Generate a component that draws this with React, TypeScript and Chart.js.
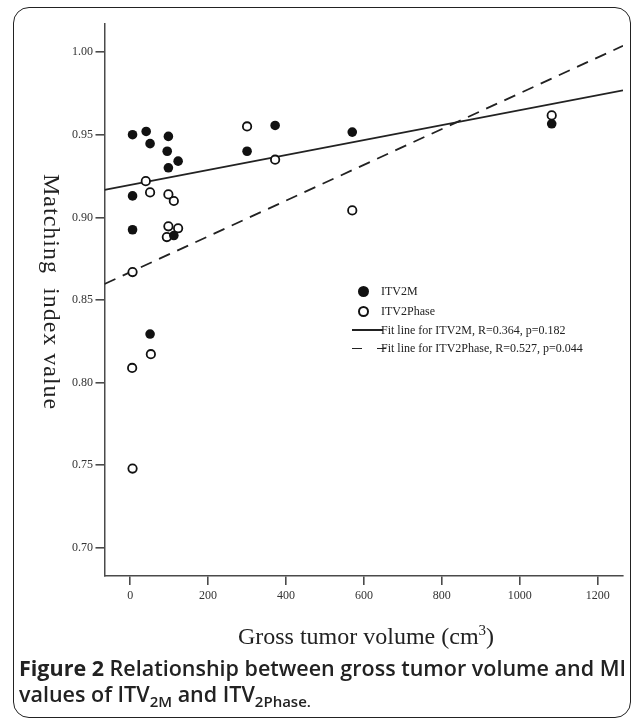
import React, { useEffect, useRef } from "react";
import { Chart, registerables } from "chart.js";
Chart.register(...registerables);

// ITV2M (filled) : gross tumor volume (cm3) and matching index
const gtvM = [6, 41, 51, 98, 95, 123, 98, 6, 6, 112, 51, 300, 372, 570, 1082];
const miM = [0.95, 0.952, 0.9446, 0.949, 0.94, 0.934, 0.93, 0.913, 0.8925, 0.889, 0.8294, 0.94, 0.9556, 0.9516, 0.9566];
// ITV2Phase (open)
const gtvPhase = [40, 51, 98, 112, 98, 123, 94, 6, 53, 5, 6, 300, 372, 570, 1082];
const miPhase = [0.9219, 0.9151, 0.9139, 0.9099, 0.8946, 0.8934, 0.8881, 0.8669, 0.8172, 0.8089, 0.748, 0.955, 0.9349, 0.9042, 0.9617];
// fit lines (end points)
const fitX = [-66, 1265];
const fitM = [0.9167, 0.9768];
const fitPhase = [0.8597, 1.0038];
// axes
const xTicks = [0, 200, 400, 600, 800, 1000, 1200];
const yTicks = [0.7, 0.75, 0.8, 0.85, 0.9, 0.95, 1.0];
const xRange = [-66, 1265];
const yRange = [0.683, 1.017];

const serif = '"Liberation Serif", "Times New Roman", serif';
const sans = '"Open Sans", "Noto Sans", sans-serif';

export default function App() {
  const ref = useRef<HTMLCanvasElement | null>(null);
  useEffect(() => {
    if (!ref.current) return;
    const axisColor = "#4a4a4a";
    const chart = new Chart(ref.current, {
      type: "scatter",
      data: {
        datasets: [
          {
            label: "ITV2M",
            data: gtvM.map((x, i) => ({ x, y: miM[i] })),
            pointRadius: 4.8,
            backgroundColor: "#111",
            borderColor: "#111",
            borderWidth: 0,
            order: 0,
          },
          {
            label: "ITV2Phase",
            data: gtvPhase.map((x, i) => ({ x, y: miPhase[i] })),
            pointRadius: 4.2,
            backgroundColor: "#fff",
            borderColor: "#111",
            borderWidth: 1.8,
            order: 0,
          },
          {
            type: "line",
            label: "Fit line for ITV2M",
            data: fitX.map((x, i) => ({ x, y: fitM[i] })),
            borderColor: "#222",
            borderWidth: 1.8,
            pointRadius: 0,
            fill: false,
            order: 1,
          } as any,
          {
            type: "line",
            label: "Fit line for ITV2Phase",
            data: fitX.map((x, i) => ({ x, y: fitPhase[i] })),
            borderColor: "#222",
            borderWidth: 1.8,
            borderDash: [12, 8],
            pointRadius: 0,
            fill: false,
            order: 1,
          } as any,
        ],
      },
      options: {
        responsive: false,
        animation: false,
        layout: { padding: { top: 24, right: 9, left: 0, bottom: 0 } },
        plugins: { legend: { display: false }, tooltip: { enabled: false } },
        scales: {
          x: {
            type: "linear",
            min: xRange[0],
            max: xRange[1],
            afterBuildTicks: (s: any) => {
              s.ticks = xTicks.map((v) => ({ value: v }));
            },
            afterFit: (s: any) => {
              s.height = 145;
            },
            grid: { drawOnChartArea: false, drawTicks: true, tickLength: 9, color: axisColor, lineWidth: 1.6 },
            border: { display: true, color: axisColor, width: 1.5 },
            ticks: {
              autoSkip: false,
              maxRotation: 0,
              padding: 4,
              color: "#333",
              font: { family: serif, size: 12 },
              callback: (v: any) => String(v),
            },
          },
          y: {
            type: "linear",
            min: yRange[0],
            max: yRange[1],
            afterBuildTicks: (s: any) => {
              s.ticks = yTicks.map((v) => ({ value: v }));
            },
            afterFit: (s: any) => {
              s.width = 104.5;
            },
            grid: { drawOnChartArea: false, drawTicks: true, tickLength: 9, color: axisColor, lineWidth: 1.6 },
            border: { display: true, color: axisColor, width: 1.5 },
            ticks: {
              autoSkip: false,
              padding: 2.5,
              color: "#333",
              font: { family: serif, size: 12 },
              callback: (v: any) => Number(v).toFixed(2),
            },
          },
        },
      },
    });
    return () => chart.destroy();
  }, []);

  const legendText: React.CSSProperties = {
    position: "absolute",
    left: 381,
    fontFamily: serif,
    fontSize: 12,
    lineHeight: "14px",
    color: "#222",
    whiteSpace: "nowrap",
  };
  const sub: React.CSSProperties = { fontSize: 15, lineHeight: 0, verticalAlign: "-0.3em" };

  return (
    <div style={{ position: "absolute", left: 0, top: 0, width: 632, height: 721, background: "#fff", overflow: "hidden" }}>
      <div
        style={{
          position: "absolute",
          left: 13,
          top: 7,
          width: 618,
          height: 711,
          border: "1.5px solid #222",
          borderRadius: 16,
          boxSizing: "border-box",
        }}
      />
      <canvas ref={ref} width={632} height={721} style={{ position: "absolute", left: 0, top: 0 }} />

      {/* y axis title */}
      <div
        style={{
          position: "absolute",
          left: 40,
          top: 174,
          width: 24,
          writingMode: "vertical-rl",
          fontFamily: serif,
          fontSize: 24,
          letterSpacing: 1,
          lineHeight: "24px",
          whiteSpace: "pre",
          color: "#222",
        }}
      >
        {"Matching  index value"}
      </div>

      {/* x axis title */}
      <div
        style={{
          position: "absolute",
          left: 166,
          top: 622,
          width: 400,
          textAlign: "center",
          fontFamily: serif,
          fontSize: 24,
          lineHeight: "28px",
          color: "#222",
        }}
      >
        Gross tumor volume (cm<sup style={{ fontSize: 15, lineHeight: 0 }}>3</sup>)
      </div>

      {/* legend */}
      <div style={{ position: "absolute", left: 358, top: 286, width: 11, height: 11, borderRadius: "50%", background: "#111" }} />
      <div style={{ ...legendText, top: 284 }}>ITV2M</div>
      <div
        style={{
          position: "absolute",
          left: 358,
          top: 306,
          width: 11,
          height: 11,
          borderRadius: "50%",
          border: "2px solid #111",
          boxSizing: "border-box",
          background: "#fff",
        }}
      />
      <div style={{ ...legendText, top: 304 }}>ITV2Phase</div>
      <div style={{ ...legendText, top: 323 }}>Fit line for ITV2M, R=0.364, p=0.182</div>
      <div style={{ position: "absolute", left: 352, top: 329, width: 31, height: 1.6, background: "#222" }} />
      <div style={{ ...legendText, top: 341 }}>Fit line for ITV2Phase, R=0.527, p=0.044</div>
      <div style={{ position: "absolute", left: 352, top: 347.5, width: 10, height: 1.6, background: "#222" }} />
      <div style={{ position: "absolute", left: 377, top: 347.5, width: 9, height: 1.6, background: "#222" }} />

      {/* caption */}
      <div
        style={{
          position: "absolute",
          left: 19,
          top: 655,
          width: 606,
          fontFamily: sans,
          fontSize: 21.5,
          fontWeight: 600,
          lineHeight: "26px",
          color: "#222",
        }}
      >
        <div style={{ textAlign: "justify", textAlignLast: "justify", whiteSpace: "nowrap" as any }}>
          <span style={{ fontWeight: 700 }}>Figure 2</span> Relationship between gross tumor volume and MI
        </div>
        <div>
          values of ITV<span style={sub}>2M</span> and ITV<span style={sub}>2Phase</span>
          <span style={sub}>.</span>
        </div>
      </div>
    </div>
  );
}
